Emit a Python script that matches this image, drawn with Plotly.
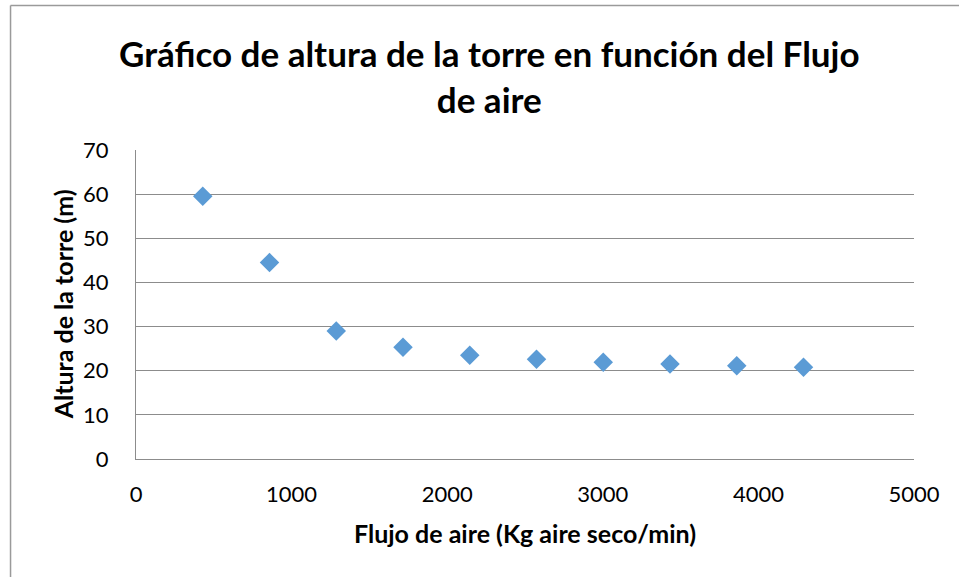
import plotly.graph_objects as go

flujo_aire = [429, 858, 1287, 1716, 2145, 2574, 3003, 3432, 3861, 4290]
altura_torre = [59.5, 44.5, 29.0, 25.3, 23.5, 22.6, 21.9, 21.5, 21.1, 20.8]

x_ticks = [0, 1000, 2000, 3000, 4000, 5000]
y_ticks = [0, 10, 20, 30, 40, 50, 60, 70]

titulo = "Gráfico de altura de la torre en función del Flujo<br>de aire"
titulo_x = "Flujo de aire (Kg aire seco/min)"
titulo_y = "Altura de la torre (m)"

W, H = 959, 577
L, R, T, B = 135.5, 913.7, 150.3, 459.0
pw, ph = R - L, B - T

def px_x(p):
    return (p - L) / pw

def px_y(p):
    return (B - p) / ph

FONT = "Lato, Carlito, Calibri, sans-serif"
GRID = "#8c8c8c"

fig = go.Figure()
fig.add_trace(go.Scatter(
    x=flujo_aire, y=altura_torre, mode="markers",
    marker=dict(symbol="diamond", size=15, color="#5B9BD5"),
    showlegend=False, cliponaxis=False,
))

fig.update_layout(
    width=W, height=H,
    margin=dict(l=L, r=W - R, t=T, b=H - B, pad=0),
    paper_bgcolor="white", plot_bgcolor="white",
    font=dict(family=FONT, color="#000000"),
    xaxis=dict(range=[0, 5000], tickvals=x_ticks, ticktext=[str(v) for v in x_ticks],
               showgrid=False, zeroline=False, showline=True, linecolor=GRID, linewidth=1,
               ticks="", tickfont=dict(size=22, family=FONT, color="#000"), ticklabelstandoff=16),
    yaxis=dict(range=[0, 70], tickvals=y_ticks, ticktext=[str(v) for v in y_ticks],
               showgrid=True, gridcolor=GRID, gridwidth=1, zeroline=False,
               showline=True, linecolor=GRID, linewidth=1, ticks="",
               tickfont=dict(size=22, family=FONT, color="#000"), ticklabelstandoff=22),
    annotations=[
        dict(text="<b>" + titulo.replace("<br>", "</b><br><b>") + "</b>",
             xref="paper", yref="paper", x=px_x(489.5), y=px_y(76), xanchor="center", yanchor="middle",
             showarrow=False, font=dict(size=35, family=FONT, color="#000")),
        dict(text="<b>" + titulo_x + "</b>", xref="paper", yref="paper",
             x=px_x(525), y=px_y(533), xanchor="center", yanchor="middle",
             showarrow=False, font=dict(size=25, family=FONT, color="#000")),
        dict(text="<b>" + titulo_y + "</b>", xref="paper", yref="paper",
             x=px_x(62), y=px_y(305), xanchor="center", yanchor="middle", textangle=-90,
             showarrow=False, font=dict(size=25, family=FONT, color="#000")),
    ],
    shapes=[
        dict(type="line", xref="paper", yref="paper", x0=px_x(10), x1=px_x(960), y0=px_y(6), y1=px_y(6),
             line=dict(color="#9a9a9a", width=1.5)),
        dict(type="line", xref="paper", yref="paper", x0=px_x(10), x1=px_x(10), y0=px_y(6), y1=px_y(580),
             line=dict(color="#9a9a9a", width=1.5)),
    ],
)

fig.write_html("out.html", config={"displayModeBar": False},
               post_script="document.body.style.margin='0';document.body.style.overflow='hidden';")
